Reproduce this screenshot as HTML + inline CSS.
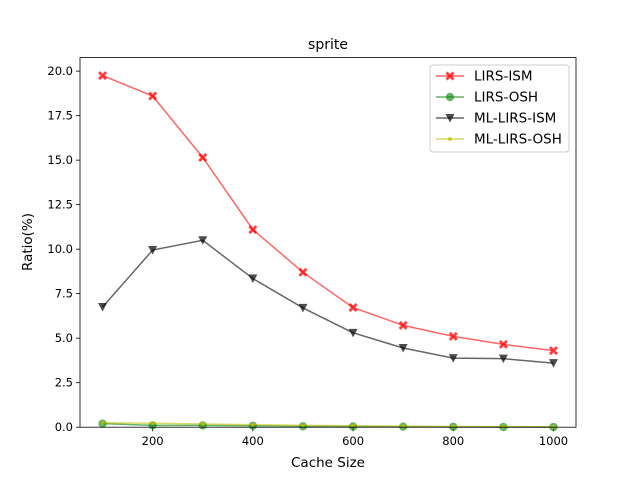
<!DOCTYPE html>
<html><head><meta charset="utf-8"><style>body{margin:0;background:#fff}svg{display:block}text{font-family:"DejaVu Sans","Liberation Sans",sans-serif;fill:#000}</style></head>
<body>
<svg id="chart" width="640" height="480"></svg>
<script>
const categories=[100,200,300,400,500,600,700,800,900,1000];
const lirsIsm=[19.75,18.6,15.15,11.1,8.7,6.72,5.72,5.1,4.65,4.3];
const lirsOsh=[0.2,0.1,0.1,0.08,0.05,0.04,0.03,0.02,0.01,0.01];
const mlLirsIsm=[6.75,9.95,10.5,8.35,6.7,5.3,4.45,3.88,3.85,3.6];
const mlLirsOsh=[0.25,0.22,0.18,0.14,0.1,0.08,0.06,0.04,0.03,0.02];
const xTicks=[200,400,600,800,1000];
const yTicks=[0,2.5,5,7.5,10,12.5,15,17.5,20];
const yTickLabels=["0.0","2.5","5.0","7.5","10.0","12.5","15.0","17.5","20.0"];
const seriesNames=["LIRS-ISM","LIRS-OSH","ML-LIRS-ISM","ML-LIRS-OSH"];

const L=80,R=576,T=57.6,B=427.2,xmin=55,xmax=1045,ymin=0,ymax=20.76;
const sx=v=>L+(v-xmin)/(xmax-xmin)*(R-L);
const sy=v=>B-(v-ymin)/(ymax-ymin)*(B-T);
const svg=document.getElementById('chart');
const NS='http://www.w3.org/2000/svg';
function mk(tag,attrs,parent){const e=document.createElementNS(NS,tag);for(const k in attrs)e.setAttribute(k,attrs[k]);(parent||svg).appendChild(e);return e;}
function txt(x,y,s,anchor,size,parent){const t=mk('text',{x:x,y:y,'text-anchor':anchor,'font-size':size},parent);t.textContent=s;return t;}

let t=txt(328,49,'sprite','middle',14);

t=txt(328,467,'Cache Size','middle',13.5);

t=txt(0,0,'Ratio(%)','middle',13.5);t.setAttribute('transform','translate(32,242) rotate(-90)');


xTicks.forEach(v=>{const g=mk('g',{});

mk('line',{x1:sx(v),x2:sx(v),y1:B,y2:B+4,stroke:'#000','stroke-width':0.8},g);
txt(sx(v),B+18,String(v),'middle',11.5,g);});
yTicks.forEach((v,i)=>{const g=mk('g',{});

mk('line',{x1:L-4,x2:L,y1:sy(v),y2:sy(v),stroke:'#000','stroke-width':0.8},g);
txt(L-7,sy(v)+4,yTickLabels[i],'end',11.5,g);});

const styles=[
 {data:lirsIsm,line:'rgba(255,0,0,0.6)',fill:'rgba(255,0,0,0.75)',m:'x',name:'lirs-ism'},
 {data:lirsOsh,line:'rgba(0,128,0,0.6)',fill:'rgba(0,128,0,0.6)',m:'o',name:'lirs-osh'},
 {data:mlLirsIsm,line:'rgba(0,0,0,0.6)',fill:'rgba(0,0,0,0.7)',m:'v',name:'ml-lirs-ism'},
 {data:mlLirsOsh,line:'rgba(191,191,0,0.6)',fill:'rgba(191,191,0,0.7)',m:'.',name:'ml-lirs-osh'}];
function marker(kind,x,y,fill,parent){
 if(kind==='x'){const a=4.5,b=2;return mk('path',{d:`M${x-a},${y-a+b}L${x-a+b},${y-a}L${x},${y-b}L${x+a-b},${y-a}L${x+a},${y-a+b}L${x+b},${y}L${x+a},${y+a-b}L${x+a-b},${y+a}L${x},${y+b}L${x-a+b},${y+a}L${x-a},${y+a-b}L${x-b},${y}Z`,fill:fill},parent);}
 if(kind==='o')return mk('circle',{cx:x,cy:y,r:4.2,fill:fill},parent);
 if(kind==='v')return mk('path',{d:`M${x-4.5},${y-4}L${x+4.5},${y-4}L${x},${y+4.5}Z`,fill:fill},parent);
 return mk('circle',{cx:x,cy:y,r:2,fill:fill},parent);}
styles.forEach(s=>{const g=mk('g',{});
 
 mk('polyline',{points:s.data.map((v,i)=>sx(categories[i])+','+sy(v)).join(' '),fill:'none',stroke:s.line,'stroke-width':1.5},g);
 s.data.forEach((v,i)=>{const m=marker(s.m,sx(categories[i]),sy(v),s.fill,g);
  });});

const frame=mk('rect',{x:L,y:T,width:R-L,height:B-T,fill:'none',stroke:'#000','stroke-width':0.8});


const lg=mk('g',{});

mk('rect',{x:430,y:65,width:139,height:87,rx:3,fill:'rgba(255,255,255,0.8)',stroke:'#ccc','stroke-width':1},lg);
styles.forEach((s,i)=>{const y=76+i*21;const e=mk('g',{},lg);
 
 mk('line',{x1:436,x2:464,y1:y,y2:y,stroke:s.line,'stroke-width':1.5},e);
 marker(s.m,450,y,s.fill,e);
 txt(474,y+4.5,seriesNames[i],'start',13.5,e);});
</script>
</body></html>
